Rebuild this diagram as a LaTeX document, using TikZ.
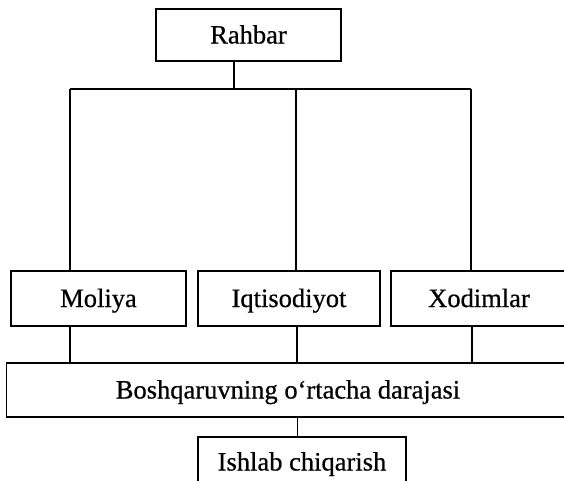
\documentclass[tikz,border=0pt]{standalone}
\usepackage{fontspec}
\setmainfont{Liberation Serif}
\newfontfamily\boxfont[FakeBold=0.6]{Liberation Serif}
\begin{document}
\begin{tikzpicture}[x=1pt,y=-1pt,
  unit/.style={draw, line width=1.3pt, inner sep=0pt, anchor=center,
    text height=17pt, text depth=0pt,
    font=\boxfont\fontsize{26.5}{30}\selectfont},
  link/.style={line width=1.3pt}]
\useasboundingbox (0,0) rectangle (564,480);
\clip (0,0) rectangle (564,480);
\fill[white] (0,0) rectangle (564,480);

% top level
\node[unit, minimum width=185, minimum height=52] (rahbar) at (248.5,35) {Rahbar};

% departments
\node[unit, minimum width=175, minimum height=55] (moliya) at (98.5,298.5) {Moliya};
\node[unit, minimum width=182, minimum height=55] (iqtisod) at (289,298.5) {Iqtisodiyot};
\node[unit, minimum width=176, minimum height=55] (xodim) at (479,298.5) {Xodimlar};

% middle management
\node[unit, minimum width=563, minimum height=54] (orta) at (288,390) {Boshqaruvning o‘rtacha darajasi};

% production
\node[unit, minimum width=208, minimum height=50] (ishlab) at (302,462) {Ishlab chiqarish};

% distribution bar
\coordinate (busL) at (70,89);
\coordinate (busC) at (296,89);
\coordinate (busR) at (471,89);
\coordinate (busTop) at (234,89);

\draw[link] (rahbar.south -| busTop) -- (busTop);
\draw[link] (busL) -- (busR);
\draw[link] (busL) -- (moliya.north -| busL);
\draw[link] (busC) -- (iqtisod.north -| busC);
\draw[link] (busR) -- (xodim.north -| busR);

% departments to middle management
\draw[link] (moliya.south -| busL) -- (orta.north -| busL);
\draw[link] (iqtisod.south -| 297,0) -- (orta.north -| 297,0);
\draw[link] (xodim.south -| 472,0) -- (orta.north -| 472,0);

% middle management to production
\draw[line width=0.9pt] (orta.south -| 297,0) -- (ishlab.north -| 297,0);
\end{tikzpicture}
\end{document}
